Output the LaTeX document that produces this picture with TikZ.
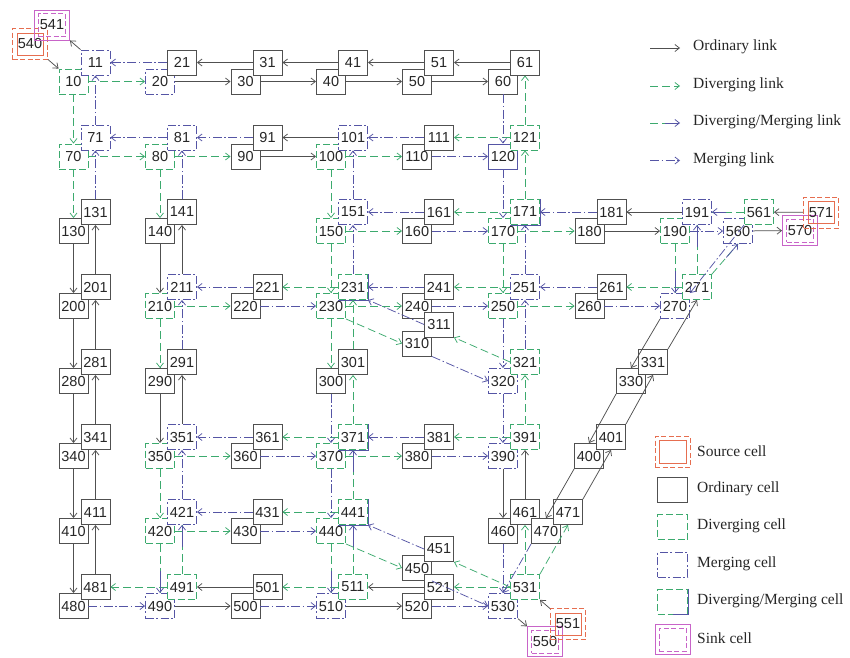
\documentclass[tikz,border=0pt]{standalone}
\usepackage{fontspec}
\setmainfont{Liberation Serif}
\newfontfamily\cellfont{Liberation Sans}
\usetikzlibrary{arrows.meta}
\definecolor{ordc}{RGB}{80,80,80}
\definecolor{grn}{RGB}{60,170,110}
\definecolor{blu}{RGB}{85,85,165}
\definecolor{org}{RGB}{230,110,80}
\definecolor{mag}{RGB}{200,100,200}
\tikzset{
 cellbase/.style={rectangle, minimum width=29pt, minimum height=25pt, inner sep=0pt, fill=white, line width=0.9pt, font={\cellfont\fontsize{14.5}{16}\selectfont}, text=black!85},
 ord/.style={cellbase, draw=ordc},
 div/.style={cellbase, draw=grn, dash pattern=on 7pt off 3pt},
 mrg/.style={cellbase, draw=blu, dash pattern=on 8pt off 2.5pt on 2pt off 2.5pt},
 dmsolid/.style={cellbase, draw=blu},
 dmedge/.style={draw=blu, line width=0.9pt},
 srcout/.style={rectangle, minimum width=35pt, minimum height=31pt, inner sep=0pt, draw=org, dash pattern=on 5pt off 2.5pt, line width=0.9pt},
 srcin/.style={rectangle, minimum width=26pt, minimum height=22pt, inner sep=0pt, draw=org, line width=0.9pt, font={\cellfont\fontsize{14.5}{16}\selectfont}, text=black!85},
 sinkout/.style={rectangle, minimum width=35pt, minimum height=30pt, inner sep=0pt, draw=mag, line width=0.9pt},
 sinkin/.style={rectangle, minimum width=27pt, minimum height=23pt, inner sep=0pt, draw=mag, dash pattern=on 5pt off 2.5pt, line width=0.9pt, font={\cellfont\fontsize{14.5}{16}\selectfont}, text=black!85},
 lk/.style={-{Straight Barb[length=4.5pt,width=7pt]}, line width=0.75pt},
 olink/.style={lk, draw=ordc},
 dlink/.style={lk, draw=grn, dash pattern=on 8pt off 4pt},
 mlink/.style={lk, draw=blu, dash pattern=on 9pt off 2.5pt on 1.5pt off 2.5pt},
 dmA/.style={line width=0.75pt, draw=grn, dash pattern=on 8pt off 4pt},
 dmB/.style={lk, draw=blu},
 legtext/.style={anchor=west, inner sep=0pt, font={\fontsize{15.5}{18}\selectfont}, text=black!85},
}
\newcommand{\dmlink}[3]{\draw[dmA] (#1) -- coordinate[pos=0.55] (#3) (#2); \draw[dmB] (#3) -- (#2);}
\newcommand{\dmedges}[1]{\draw[dmedge] (#1.north east) -- (#1.south east) -- (#1.south west);}
\begin{document}
\begin{tikzpicture}[x=1pt,y=-1pt]
\useasboundingbox (0,0) rectangle (850,657);
% ---------- cells ----------
\node[srcout] (c540o) at (30,44) {};
\node[srcin] (c540) at (30,44) {540};
\node[sinkout] (c541o) at (52,25) {};
\node[sinkin] (c541) at (52,25) {541};
% row 1
\node[div] (c10) at (73.5,81.5) {10};
\node[mrg] (c11) at (95.5,62.5) {11};
\node[mrg] (c20) at (160,81.5) {20};
\node[ord] (c21) at (182,62.5) {21};
\node[ord] (c30) at (245.5,81.5) {30};
\node[ord] (c31) at (267.5,62.5) {31};
\node[ord] (c40) at (331,81.5) {40};
\node[ord] (c41) at (353,62.5) {41};
\node[ord] (c50) at (417,81.5) {50};
\node[ord] (c51) at (439,62.5) {51};
\node[ord] (c60) at (503,81.5) {60};
\node[ord] (c61) at (525,62.5) {61};
% row 2
\node[div] (c70) at (73.5,156.5) {70};
\node[mrg] (c71) at (95.5,137.5) {71};
\node[div] (c80) at (160,156.5) {80};
\node[mrg] (c81) at (182,137.5) {81};
\node[ord] (c90) at (245.5,156.5) {90};
\node[ord] (c91) at (267.5,137.5) {91};
\node[div] (c100) at (331,156.5) {100};
\node[mrg] (c101) at (353,137.5) {101};
\node[ord] (c110) at (417,156.5) {110};
\node[ord] (c111) at (439,137.5) {111};
\node[dmsolid] (c120) at (503,156.5) {120};
\node[div] (c121) at (525,137.5) {121};
% row 3
\node[ord] (c130) at (73.5,231) {130};
\node[ord] (c131) at (95.5,212) {131};
\node[ord] (c140) at (160,231) {140};
\node[ord] (c141) at (182,212) {141};
\node[div] (c150) at (331,231) {150};
\node[mrg] (c151) at (353,212) {151};
\node[ord] (c160) at (417,231) {160};
\node[ord] (c161) at (439,212) {161};
\node[div] (c170) at (503,231) {170};
\node[div] (c171) at (525,212) {171};
\dmedges{c171}
\node[ord] (c180) at (589.5,231) {180};
\node[ord] (c181) at (611.5,212) {181};
\node[div] (c190) at (675,231) {190};
\node[mrg] (c191) at (697,212) {191};
\node[mrg] (c560) at (738,231) {560};
\node[div] (c561) at (759,212) {561};
\node[sinkout] (c570o) at (800,230.5) {};
\node[sinkin] (c570) at (800,230.5) {570};
\node[srcout] (c571o) at (821,212.5) {};
\node[srcin] (c571) at (821,212.5) {571};
% row 4
\node[ord] (c200) at (73.5,306) {200};
\node[ord] (c201) at (95.5,287) {201};
\node[div] (c210) at (160,306) {210};
\node[mrg] (c211) at (182,287) {211};
\node[ord] (c220) at (245.5,306) {220};
\node[ord] (c221) at (267.5,287) {221};
\node[div] (c230) at (331,306) {230};
\node[div] (c231) at (353,287) {231};
\dmedges{c231}
\node[ord] (c240) at (417,306) {240};
\node[ord] (c241) at (439,287) {241};
\node[div] (c250) at (503,306) {250};
\node[mrg] (c251) at (525,287) {251};
\node[ord] (c260) at (589.5,306) {260};
\node[ord] (c261) at (611.5,287) {261};
\node[mrg] (c270) at (675,306) {270};
\node[div] (c271) at (697,287) {271};
\node[ord] (c310) at (417,343.5) {310};
\node[ord] (c311) at (439,324.5) {311};
% row 5
\node[ord] (c280) at (73.5,381) {280};
\node[ord] (c281) at (95.5,362) {281};
\node[ord] (c290) at (160,381) {290};
\node[ord] (c291) at (182,362) {291};
\node[ord] (c300) at (331,381) {300};
\node[ord] (c301) at (353,362) {301};
\node[mrg] (c320) at (503,381) {320};
\node[div] (c321) at (525,362) {321};
\node[ord] (c330) at (631,381) {330};
\node[ord] (c331) at (653,362) {331};
% row 6
\node[ord] (c340) at (73.5,456) {340};
\node[ord] (c341) at (95.5,437) {341};
\node[div] (c350) at (160,456) {350};
\node[mrg] (c351) at (182,437) {351};
\node[ord] (c360) at (245.5,456) {360};
\node[ord] (c361) at (267.5,437) {361};
\node[div] (c370) at (331,456) {370};
\node[div] (c371) at (353,437) {371};
\dmedges{c371}
\node[ord] (c380) at (417,456) {380};
\node[ord] (c381) at (439,437) {381};
\node[mrg] (c390) at (503,456) {390};
\node[div] (c391) at (525,437) {391};
\node[ord] (c400) at (589,456) {400};
\node[ord] (c401) at (611,437) {401};
% row 7
\node[ord] (c410) at (73.5,531) {410};
\node[ord] (c411) at (95.5,512) {411};
\node[div] (c420) at (160,531) {420};
\node[mrg] (c421) at (182,512) {421};
\node[ord] (c430) at (245.5,531) {430};
\node[ord] (c431) at (267.5,512) {431};
\node[div] (c440) at (331,531) {440};
\node[div] (c441) at (353,512) {441};
\dmedges{c441}
\node[ord] (c450) at (417,568) {450};
\node[ord] (c451) at (439,549) {451};
\node[ord] (c460) at (503,531) {460};
\node[ord] (c461) at (525,512) {461};
\node[ord] (c470) at (546,531) {470};
\node[ord] (c471) at (568,512) {471};
% row 8
\node[ord] (c480) at (73.5,606) {480};
\node[ord] (c481) at (95.5,587) {481};
\node[mrg] (c490) at (160,606) {490};
\node[div] (c491) at (182,587) {491};
\node[ord] (c500) at (245.5,606) {500};
\node[ord] (c501) at (267.5,587) {501};
\node[mrg] (c510) at (331,606) {510};
\node[div] (c511) at (353,587) {511};
\node[ord] (c520) at (417,606) {520};
\node[ord] (c521) at (439,587) {521};
\node[mrg] (c530) at (503,606) {530};
\node[div] (c531) at (525,587) {531};
\node[sinkout] (c550o) at (545,641.5) {};
\node[sinkin] (c550) at (545,641.5) {550};
\node[srcout] (c551o) at (568,624) {};
\node[srcin] (c551) at (568,624) {551};
% ---------- links ----------
\foreach \a/\b in {c20/c30,c30/c40,c40/c50,c50/c60,c31/c21,c41/c31,c51/c41,c61/c51,c90/c100,c101/c91,c130/c200,c201/c131,c140/c210,c211/c141,c180/c190,c191/c181,c560/c570o,c571o/c561,c200/c280,c281/c201,c280/c340,c341/c281,c290/c350,c351/c291,c340/c410,c411/c341,c390/c460,c461/c391,c410/c480,c481/c411,c490/c500,c501/c491,c510/c520,c521/c511,c540o/c10,c11/c541o,c530/c550o,c551o/c531}
  \draw[olink] (\a) -- (\b);
\draw[olink] (c270.south west) -- (c330.north);
\draw[olink] (c331.north east) -- (c271.south);
\draw[olink] (c330.south west) -- (c400.north);
\draw[olink] (c401.north east) -- (c331.south);
\draw[olink] (c400.south west) -- (c470.north);
\draw[olink] (c471.north east) -- (c401.south);
\foreach \a/\b in {c10/c20,c10/c70,c70/c80,c80/c90,c100/c110,c121/c111,c121/c61,c70/c130,c80/c140,c100/c150,c171/c121,c150/c160,c171/c161,c170/c180,c150/c230,c170/c250,c271/c261,c210/c220,c231/c221,c230/c240,c251/c241,c250/c260,c210/c290,c230/c300,c301/c231,c350/c360,c371/c361,c370/c380,c391/c381,c371/c301,c391/c321,c350/c420,c420/c430,c441/c431,c531/c461,c491/c481,c511/c501,c531/c521}
  \draw[dlink] (\a) -- (\b);
\draw[dlink] (c230.south east) -- (c310.west);
\draw[dlink] (c321.west) -- (c311.south east);
\draw[dlink] (c440.south east) -- (c450.west);
\draw[dlink] (c531.west) -- (c451.south east);
\draw[dlink] (c531.north east) -- (c471.south);
\foreach \a/\b in {c21/c11,c71/c11,c81/c71,c91/c81,c111/c101,c110/c120,c60/c120,c131/c71,c141/c81,c151/c101,c120/c170,c161/c151,c160/c170,c181/c171,c190/c560,c231/c151,c251/c171,c221/c211,c220/c230,c241/c231,c240/c250,c261/c251,c260/c270,c291/c211,c250/c320,c321/c251,c300/c370,c320/c390,c361/c351,c360/c370,c381/c371,c380/c390,c421/c351,c370/c440,c431/c421,c430/c440,c460/c530,c480/c490,c500/c510,c520/c530}
  \draw[mlink] (\a) -- (\b);
\draw[mlink] (c311.west) -- (c231.south east);
\draw[mlink] (c310.south east) -- (c320.west);
\draw[mlink] (c451.west) -- (c441.south east);
\draw[mlink] (c450.south east) -- (c530.west);
\draw[mlink] (c470.south west) -- (c530.north);
\draw[mlink] (c561.south west) -- (c270.north east);
\dmlink{c271.north east}{c560.south}{m1}
\dmlink{c561}{c191}{m2}
\dmlink{c190}{c270}{m3}
\dmlink{c271}{c191}{m4}
\dmlink{c441}{c371}{m5}
\dmlink{c491}{c421}{m6}
\dmlink{c511}{c441}{m7}
\dmlink{c420}{c490}{m8}
\dmlink{c440}{c510}{m9}
% ---------- legend: links ----------
\coordinate (la1) at (650,48);  \coordinate (lb1) at (680,48);
\coordinate (la2) at (650,86);  \coordinate (lb2) at (680,86);
\coordinate (la3) at (650,123); \coordinate (lm3) at (665,123); \coordinate (lb3) at (680,123);
\coordinate (la4) at (650,160.5); \coordinate (lb4) at (680,160.5);
\draw[olink] (la1) -- (lb1);
\draw[dlink] (la2) -- (lb2);
\draw[dmA] (la3) -- (lm3);
\draw[dmB] (lm3) -- (lb3);
\draw[mlink] (la4) -- (lb4);
\node[legtext] (lt1) at (693,47) {Ordinary link};
\node[legtext] (lt2) at (693,85) {Diverging link};
\node[legtext] (lt3) at (693,122) {Diverging/Merging link};
\node[legtext] (lt4) at (693,159.5) {Merging link};
% ---------- legend: cells ----------
\node[srcout] (lc1o) at (672.5,452) {};
\node[srcin, minimum width=27pt, minimum height=23pt] (lc1) at (672.5,452) {};
\node[ord, minimum width=30pt] (lc2) at (672.5,489.5) {};
\node[div, minimum width=30pt] (lc3) at (672.5,527) {};
\node[mrg, minimum width=30pt] (lc4) at (672.5,564.5) {};
\node[div, minimum width=30pt] (lc5) at (672.5,601.5) {};
\draw[dmedge] (lc5.north east) -- (lc5.south east) -- (lc5.south);
\node[sinkout] (lc6o) at (672.5,639.5) {};
\node[sinkin] (lc6) at (672.5,639.5) {};
\node[legtext] (lt5) at (697,451) {Source cell};
\node[legtext] (lt6) at (697,488.5) {Ordinary cell};
\node[legtext] (lt7) at (697,526) {Diverging cell};
\node[legtext] (lt8) at (697,563.5) {Merging cell};
\node[legtext] (lt9) at (697,600.5) {Diverging/Merging cell};
\node[legtext] (lt10) at (697,638.5) {Sink cell};
\end{tikzpicture}
\end{document}
